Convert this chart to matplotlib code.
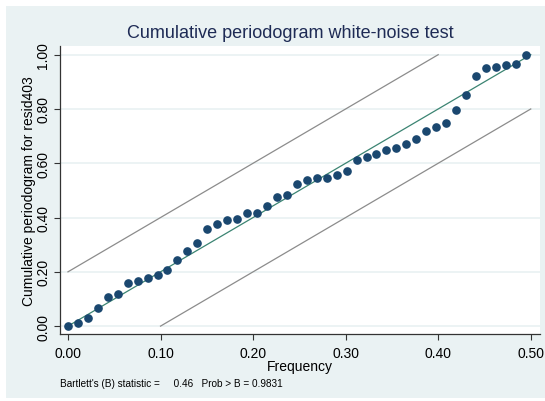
import matplotlib
matplotlib.use("Agg")
import matplotlib.pyplot as plt
from matplotlib.patches import Rectangle

plt.rcParams['font.family'] = ['Liberation Sans', 'DejaVu Sans']

# frequencies k/93, k = 0..46
freq = [0.0000, 0.0108, 0.0215, 0.0323, 0.0430, 0.0538, 0.0645, 0.0753,
        0.0860, 0.0968, 0.1075, 0.1183, 0.1290, 0.1398, 0.1505, 0.1613,
        0.1720, 0.1828, 0.1935, 0.2043, 0.2151, 0.2258, 0.2366, 0.2473,
        0.2581, 0.2688, 0.2796, 0.2903, 0.3011, 0.3118, 0.3226, 0.3333,
        0.3441, 0.3548, 0.3656, 0.3763, 0.3871, 0.3978, 0.4086, 0.4194,
        0.4301, 0.4409, 0.4516, 0.4624, 0.4731, 0.4839, 0.4946]
cumper = [0.000, 0.010, 0.029, 0.065, 0.109, 0.120, 0.158, 0.166,
          0.178, 0.189, 0.205, 0.242, 0.278, 0.308, 0.359, 0.375,
          0.392, 0.396, 0.415, 0.415, 0.442, 0.477, 0.482, 0.523,
          0.539, 0.546, 0.546, 0.558, 0.571, 0.613, 0.624, 0.634,
          0.649, 0.655, 0.672, 0.690, 0.718, 0.735, 0.749, 0.795,
          0.850, 0.920, 0.952, 0.955, 0.962, 0.965, 1.000]
band = 0.2
xticks = [0.0, 0.1, 0.2, 0.3, 0.4, 0.5]
yticks = [0.0, 0.2, 0.4, 0.6, 0.8, 1.0]

bg = "#EAF2F3"
navy = "#1A476F"

fig = plt.figure(figsize=(5.45, 4.02), dpi=100)
fig.patch.set_facecolor("white")
rect = Rectangle((6 / 545, 1 - 399 / 402), 539 / 545, 392 / 402,
                 transform=fig.transFigure, facecolor=bg, edgecolor="none")
rect.set_zorder(-10)
fig.add_artist(rect)

ax = fig.add_axes([60 / 545, 1 - 335 / 402, 480 / 545, 288 / 402])
ax.set_zorder(1)
ax.set_facecolor("white")

for y in yticks:
    ax.axhline(y, color=bg, lw=1.3, zorder=1)

# confidence band lines and the 45-degree reference line
ax.plot([0, 0.5 - band / 2], [band, 1], color="#8C8C8C", lw=0.9, zorder=2)
ax.plot([band / 2, 0.5], [0, 1 - band], color="#8C8C8C", lw=0.9, zorder=2)
ax.plot([0, 0.5], [0, 1], color="#3B8472", lw=0.9, zorder=3)
ax.plot(freq, cumper, "o", color=navy, ms=5.2, zorder=4)

ax.set_xlim(-0.0086, 0.510)
ax.set_ylim(-0.029, 1.032)
ax.set_xticks(xticks)
ax.set_xticklabels(["%.2f" % v for v in xticks], fontsize=10)
ax.set_yticks(yticks)
ax.set_yticklabels(["%.2f" % v for v in yticks], fontsize=10, rotation=90, va="center")
ax.tick_params(direction="out", length=4, width=0.8, color="#333333")
ax.tick_params(axis="x", pad=5)
ax.tick_params(axis="y", pad=3)
for s in ["top", "right"]:
    ax.spines[s].set_visible(False)
for s in ["left", "bottom"]:
    ax.spines[s].set_color("#333333")
    ax.spines[s].set_linewidth(0.9)

ax.set_xlabel("Frequency", fontsize=10, labelpad=-1)
ax.set_ylabel("Cumulative periodogram for resid403", fontsize=10, labelpad=0)

fig.text(290 / 545, 1 - 33 / 402, "Cumulative periodogram white-noise test",
         fontsize=13, color="#1E2B55", ha="center", va="center")
fig.text(60 / 545, 1 - 384 / 402,
         "Bartlett's (B) statistic =     0.46   Prob > B = 0.9831",
         fontsize=7.2, ha="left", va="center")

fig.savefig("out.png", dpi=100, facecolor="white")
